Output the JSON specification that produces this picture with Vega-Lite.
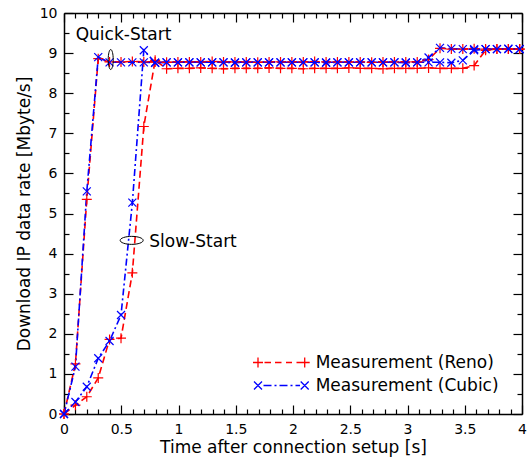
{
  "$schema": "https://vega.github.io/schema/vega-lite/v6.json",
  "width": 458,
  "height": 401,
  "autosize": {"type": "none"},
  "padding": {"left": 64, "top": 13, "right": 5, "bottom": 46},
  "background": "white",
  "config": {
    "view": {"stroke": null},
    "axis": {
      "domainColor": "black", "tickColor": "black", "labelColor": "black", "titleColor": "black",
      "labelFont": "DejaVu Sans", "titleFont": "DejaVu Sans", "labelFontSize": 14, "titleFontSize": 17,
      "titleFontWeight": "normal", "grid": false, "tickWidth": 1.2, "domainWidth": 1.5,
      "labelOverlap": false, "labelFlush": false
    },
    "legend": {
      "labelFont": "DejaVu Sans", "labelFontSize": 17, "labelColor": "black", "labelLimit": 400,
      "padding": 0, "symbolSize": 100, "symbolStrokeWidth": 1.3, "labelOffset": 49.2, "rowPadding": 5
    }
  },
  "datasets": {
    "pts": [
      {"s":"QR","a":"Reno","t":0,"r":0},{"s":"QR","a":"Reno","t":0.1,"r":1.25},{"s":"QR","a":"Reno","t":0.199,"r":5.35},{"s":"QR","a":"Reno","t":0.299,"r":8.86},{"s":"QR","a":"Reno","t":0.398,"r":8.78},{"s":"QR","a":"Reno","t":0.498,"r":8.78},{"s":"QR","a":"Reno","t":0.597,"r":8.79},{"s":"QR","a":"Reno","t":0.697,"r":8.78},{"s":"QR","a":"Reno","t":0.796,"r":8.78},{"s":"QR","a":"Reno","t":0.896,"r":8.77},{"s":"QR","a":"Reno","t":0.995,"r":8.78},{"s":"QR","a":"Reno","t":1.095,"r":8.78},{"s":"QR","a":"Reno","t":1.194,"r":8.78},{"s":"QR","a":"Reno","t":1.294,"r":8.79},{"s":"QR","a":"Reno","t":1.393,"r":8.78},{"s":"QR","a":"Reno","t":1.493,"r":8.78},{"s":"QR","a":"Reno","t":1.592,"r":8.78},{"s":"QR","a":"Reno","t":1.692,"r":8.77},{"s":"QR","a":"Reno","t":1.791,"r":8.78},{"s":"QR","a":"Reno","t":1.891,"r":8.78},{"s":"QR","a":"Reno","t":1.99,"r":8.78},{"s":"QR","a":"Reno","t":2.09,"r":8.78},{"s":"QR","a":"Reno","t":2.189,"r":8.79},{"s":"QR","a":"Reno","t":2.289,"r":8.78},{"s":"QR","a":"Reno","t":2.388,"r":8.78},{"s":"QR","a":"Reno","t":2.488,"r":8.78},{"s":"QR","a":"Reno","t":2.587,"r":8.78},{"s":"QR","a":"Reno","t":2.687,"r":8.77},{"s":"QR","a":"Reno","t":2.786,"r":8.78},{"s":"QR","a":"Reno","t":2.886,"r":8.78},{"s":"QR","a":"Reno","t":2.985,"r":8.78},{"s":"QR","a":"Reno","t":3.085,"r":8.78},{"s":"QR","a":"Reno","t":3.184,"r":8.84},{"s":"QR","a":"Reno","t":3.284,"r":9.12},{"s":"QR","a":"Reno","t":3.383,"r":9.1},{"s":"QR","a":"Reno","t":3.483,"r":9.1},{"s":"QR","a":"Reno","t":3.582,"r":9.11},{"s":"QR","a":"Reno","t":3.682,"r":9.1},{"s":"QR","a":"Reno","t":3.781,"r":9.1},{"s":"QR","a":"Reno","t":3.881,"r":9.1},{"s":"QR","a":"Reno","t":3.98,"r":9.1},
      {"s":"SR","a":"Reno","t":0,"r":0},{"s":"SR","a":"Reno","t":0.1,"r":0.22},{"s":"SR","a":"Reno","t":0.199,"r":0.43},{"s":"SR","a":"Reno","t":0.299,"r":0.9},{"s":"SR","a":"Reno","t":0.398,"r":1.86},{"s":"SR","a":"Reno","t":0.498,"r":1.89},{"s":"SR","a":"Reno","t":0.597,"r":3.52},{"s":"SR","a":"Reno","t":0.697,"r":7.17},{"s":"SR","a":"Reno","t":0.796,"r":8.82},{"s":"SR","a":"Reno","t":0.896,"r":8.61},{"s":"SR","a":"Reno","t":0.995,"r":8.62},{"s":"SR","a":"Reno","t":1.095,"r":8.62},{"s":"SR","a":"Reno","t":1.194,"r":8.63},{"s":"SR","a":"Reno","t":1.294,"r":8.62},{"s":"SR","a":"Reno","t":1.393,"r":8.61},{"s":"SR","a":"Reno","t":1.493,"r":8.62},{"s":"SR","a":"Reno","t":1.592,"r":8.62},{"s":"SR","a":"Reno","t":1.692,"r":8.62},{"s":"SR","a":"Reno","t":1.791,"r":8.63},{"s":"SR","a":"Reno","t":1.891,"r":8.62},{"s":"SR","a":"Reno","t":1.99,"r":8.62},{"s":"SR","a":"Reno","t":2.09,"r":8.61},{"s":"SR","a":"Reno","t":2.189,"r":8.62},{"s":"SR","a":"Reno","t":2.289,"r":8.62},{"s":"SR","a":"Reno","t":2.388,"r":8.62},{"s":"SR","a":"Reno","t":2.488,"r":8.63},{"s":"SR","a":"Reno","t":2.587,"r":8.62},{"s":"SR","a":"Reno","t":2.687,"r":8.62},{"s":"SR","a":"Reno","t":2.786,"r":8.61},{"s":"SR","a":"Reno","t":2.886,"r":8.62},{"s":"SR","a":"Reno","t":2.985,"r":8.62},{"s":"SR","a":"Reno","t":3.085,"r":8.62},{"s":"SR","a":"Reno","t":3.184,"r":8.63},{"s":"SR","a":"Reno","t":3.284,"r":8.62},{"s":"SR","a":"Reno","t":3.383,"r":8.62},{"s":"SR","a":"Reno","t":3.483,"r":8.62},{"s":"SR","a":"Reno","t":3.582,"r":8.69},{"s":"SR","a":"Reno","t":3.682,"r":9.07},{"s":"SR","a":"Reno","t":3.781,"r":9.1},{"s":"SR","a":"Reno","t":3.881,"r":9.1},{"s":"SR","a":"Reno","t":3.98,"r":9.1},
      {"s":"QC","a":"Cubic","t":0,"r":0},{"s":"QC","a":"Cubic","t":0.1,"r":1.18},{"s":"QC","a":"Cubic","t":0.199,"r":5.55},{"s":"QC","a":"Cubic","t":0.299,"r":8.9},{"s":"QC","a":"Cubic","t":0.398,"r":8.77},{"s":"QC","a":"Cubic","t":0.498,"r":8.77},{"s":"QC","a":"Cubic","t":0.597,"r":8.77},{"s":"QC","a":"Cubic","t":0.697,"r":8.77},{"s":"QC","a":"Cubic","t":0.796,"r":8.76},{"s":"QC","a":"Cubic","t":0.896,"r":8.77},{"s":"QC","a":"Cubic","t":0.995,"r":8.77},{"s":"QC","a":"Cubic","t":1.095,"r":8.77},{"s":"QC","a":"Cubic","t":1.194,"r":8.77},{"s":"QC","a":"Cubic","t":1.294,"r":8.77},{"s":"QC","a":"Cubic","t":1.393,"r":8.77},{"s":"QC","a":"Cubic","t":1.493,"r":8.76},{"s":"QC","a":"Cubic","t":1.592,"r":8.77},{"s":"QC","a":"Cubic","t":1.692,"r":8.77},{"s":"QC","a":"Cubic","t":1.791,"r":8.77},{"s":"QC","a":"Cubic","t":1.891,"r":8.77},{"s":"QC","a":"Cubic","t":1.99,"r":8.77},{"s":"QC","a":"Cubic","t":2.09,"r":8.77},{"s":"QC","a":"Cubic","t":2.189,"r":8.77},{"s":"QC","a":"Cubic","t":2.289,"r":8.76},{"s":"QC","a":"Cubic","t":2.388,"r":8.77},{"s":"QC","a":"Cubic","t":2.488,"r":8.77},{"s":"QC","a":"Cubic","t":2.587,"r":8.77},{"s":"QC","a":"Cubic","t":2.687,"r":8.77},{"s":"QC","a":"Cubic","t":2.786,"r":8.77},{"s":"QC","a":"Cubic","t":2.886,"r":8.77},{"s":"QC","a":"Cubic","t":2.985,"r":8.76},{"s":"QC","a":"Cubic","t":3.085,"r":8.77},{"s":"QC","a":"Cubic","t":3.184,"r":8.89},{"s":"QC","a":"Cubic","t":3.284,"r":9.13},{"s":"QC","a":"Cubic","t":3.383,"r":9.11},{"s":"QC","a":"Cubic","t":3.483,"r":9.1},{"s":"QC","a":"Cubic","t":3.582,"r":9.1},{"s":"QC","a":"Cubic","t":3.682,"r":9.1},{"s":"QC","a":"Cubic","t":3.781,"r":9.1},{"s":"QC","a":"Cubic","t":3.881,"r":9.11},{"s":"QC","a":"Cubic","t":3.98,"r":9.1},
      {"s":"SC","a":"Cubic","t":0,"r":0},{"s":"SC","a":"Cubic","t":0.1,"r":0.3},{"s":"SC","a":"Cubic","t":0.199,"r":0.68},{"s":"SC","a":"Cubic","t":0.299,"r":1.39},{"s":"SC","a":"Cubic","t":0.398,"r":1.82},{"s":"SC","a":"Cubic","t":0.498,"r":2.47},{"s":"SC","a":"Cubic","t":0.597,"r":5.27},{"s":"SC","a":"Cubic","t":0.697,"r":9.07},{"s":"SC","a":"Cubic","t":0.796,"r":8.76},{"s":"SC","a":"Cubic","t":0.896,"r":8.77},{"s":"SC","a":"Cubic","t":0.995,"r":8.77},{"s":"SC","a":"Cubic","t":1.095,"r":8.77},{"s":"SC","a":"Cubic","t":1.194,"r":8.77},{"s":"SC","a":"Cubic","t":1.294,"r":8.77},{"s":"SC","a":"Cubic","t":1.393,"r":8.77},{"s":"SC","a":"Cubic","t":1.493,"r":8.77},{"s":"SC","a":"Cubic","t":1.592,"r":8.77},{"s":"SC","a":"Cubic","t":1.692,"r":8.77},{"s":"SC","a":"Cubic","t":1.791,"r":8.77},{"s":"SC","a":"Cubic","t":1.891,"r":8.77},{"s":"SC","a":"Cubic","t":1.99,"r":8.77},{"s":"SC","a":"Cubic","t":2.09,"r":8.77},{"s":"SC","a":"Cubic","t":2.189,"r":8.77},{"s":"SC","a":"Cubic","t":2.289,"r":8.77},{"s":"SC","a":"Cubic","t":2.388,"r":8.77},{"s":"SC","a":"Cubic","t":2.488,"r":8.77},{"s":"SC","a":"Cubic","t":2.587,"r":8.77},{"s":"SC","a":"Cubic","t":2.687,"r":8.77},{"s":"SC","a":"Cubic","t":2.786,"r":8.77},{"s":"SC","a":"Cubic","t":2.886,"r":8.77},{"s":"SC","a":"Cubic","t":2.985,"r":8.77},{"s":"SC","a":"Cubic","t":3.085,"r":8.77},{"s":"SC","a":"Cubic","t":3.184,"r":8.77},{"s":"SC","a":"Cubic","t":3.284,"r":8.77},{"s":"SC","a":"Cubic","t":3.383,"r":8.76},{"s":"SC","a":"Cubic","t":3.483,"r":8.82},{"s":"SC","a":"Cubic","t":3.582,"r":9.07},{"s":"SC","a":"Cubic","t":3.682,"r":9.1},{"s":"SC","a":"Cubic","t":3.781,"r":9.1},{"s":"SC","a":"Cubic","t":3.881,"r":9.1},{"s":"SC","a":"Cubic","t":3.98,"r":9.1}
    ],
    "ann": [
      {"label": "Quick-Start", "t": 0.102, "r": 9.46, "et": 0.408, "er": 8.84},
      {"label": "Slow-Start", "t": 0.745, "r": 4.3, "et": 0.591, "er": 4.33}
    ]
  },
  "resolve": {"axis": {"x": "independent", "y": "independent"}, "scale": {"color": "independent", "shape": "independent"}},
  "layer": [
    {
      "data": {"name": "pts"},
      "mark": {"type": "line", "strokeWidth": 1.6},
      "encoding": {
        "x": {"field": "t", "type": "quantitative", "scale": {"domain": [0, 4], "nice": false},
          "axis": {"orient": "bottom", "values": [0, 0.5, 1, 1.5, 2, 2.5, 3, 3.5, 4], "tickSize": -9, "labelPadding": 17, "labelExpr": "'' + datum.value", "title": "Time after connection setup [s]", "titlePadding": 3}},
        "y": {"field": "r", "type": "quantitative", "scale": {"domain": [0, 10], "nice": false},
          "axis": {"orient": "left", "values": [0, 1, 2, 3, 4, 5, 6, 7, 8, 9, 10], "tickSize": -9, "labelPadding": 16, "labelExpr": "'' + datum.value", "title": "Download IP data rate [Mbyte/s]", "titlePadding": 6}},
        "color": {"field": "a", "type": "nominal", "scale": {"domain": ["Reno", "Cubic"], "range": ["#ff0000", "#0000ff"]}, "legend": null},
        "strokeDash": {"field": "a", "type": "nominal", "scale": {"domain": ["Reno", "Cubic"], "range": [[7, 4], [7, 3, 2, 3]]}, "legend": null},
        "detail": {"field": "s"}
      }
    },
    {
      "data": {"name": "pts"},
      "mark": {"type": "point", "filled": false, "size": 100, "strokeWidth": 1.2, "opacity": 1},
      "encoding": {
        "x": {"field": "t", "type": "quantitative",
          "axis": {"orient": "bottom", "values": [0.1,0.2,0.3,0.4,0.6,0.7,0.8,0.9,1.1,1.2,1.3,1.4,1.6,1.7,1.8,1.9,2.1,2.2,2.3,2.4,2.6,2.7,2.8,2.9,3.1,3.2,3.3,3.4,3.6,3.7,3.8,3.9], "tickSize": -5, "labels": false, "domain": false, "title": null}},
        "y": {"field": "r", "type": "quantitative",
          "axis": {"orient": "left", "values": [0.5,1.5,2.5,3.5,4.5,5.5,6.5,7.5,8.5,9.5], "tickSize": -5, "labels": false, "domain": false, "title": null}},
        "color": {"field": "a", "type": "nominal", "scale": {"domain": ["Reno", "Cubic"], "range": ["#ff0000", "#0000ff"]}, "legend": null},
        "shape": {"field": "a", "type": "nominal", "scale": {"domain": ["Reno", "Cubic"], "range": ["M-1,0L1,0M0,-1L0,1", "M-0.8,-0.8L0.8,0.8M-0.8,0.8L0.8,-0.8"]}, "legend": null}
      }
    },
    {
      "data": {"name": "pts"},
      "transform": [{"filter": "datum.t === 0 && (datum.s === 'QR' || datum.s === 'QC')"}],
      "mark": {"type": "point", "filled": false, "size": 100, "strokeWidth": 1.3, "opacity": 0},
      "encoding": {
        "x": {"field": "t", "type": "quantitative", "axis": null},
        "y": {"field": "r", "type": "quantitative", "axis": null},
        "color": {"field": "a", "type": "nominal", "scale": {"domain": ["Reno", "Cubic"], "range": ["#ff0000", "#0000ff"]},
          "legend": {"orient": "none", "legendX": 185.5, "legendY": 341, "title": null, "symbolOpacity": 1,
            "labelExpr": "'Measurement (' + datum.label + ')'"}},
        "shape": {"field": "a", "type": "nominal",
          "scale": {"domain": ["Reno", "Cubic"], "range": [
            "M-1,0L1,0M0,-1L0,1M1.3,0L2.6,0M3.4,0L4.7,0M5.6,0L6.8,0M7.7,0L10.34,0M9.34,-1L9.34,1",
            "M-0.8,-0.8L0.8,0.8M-0.8,0.8L0.8,-0.8M1.1,0L2.7,0M3.3,0L3.7,0M4.3,0L5.9,0M6.5,0L6.9,0M7.5,0L8.4,0M8.54,-0.8L10.14,0.8M8.54,0.8L10.14,-0.8"]},
          "legend": {"orient": "none", "legendX": 185.5, "legendY": 341, "title": null, "symbolOpacity": 1,
            "labelExpr": "'Measurement (' + datum.label + ')'"}}
      }
    },
    {
      "data": {"name": "ann"},
      "transform": [{"filter": "datum.label === 'Quick-Start'"}],
      "mark": {"type": "point", "filled": false, "color": "black", "strokeWidth": 1, "size": 400, "opacity": 1,
        "shape": "M0,-1C0.138,-1,0.25,-0.552,0.25,0C0.25,0.552,0.138,1,0,1C-0.138,1,-0.25,0.552,-0.25,0C-0.25,-0.552,-0.138,-1,0,-1Z"},
      "encoding": {
        "x": {"field": "et", "type": "quantitative",
          "axis": {"orient": "top", "values": [0, 0.5, 1, 1.5, 2, 2.5, 3, 3.5, 4], "tickSize": -9, "labels": false, "title": null}},
        "y": {"field": "er", "type": "quantitative",
          "axis": {"orient": "right", "values": [0, 1, 2, 3, 4, 5, 6, 7, 8, 9, 10], "tickSize": -9, "labels": false, "title": null}}
      }
    },
    {
      "data": {"name": "ann"},
      "transform": [{"filter": "datum.label === 'Slow-Start'"}],
      "mark": {"type": "point", "filled": false, "color": "black", "strokeWidth": 1, "size": 529, "opacity": 1,
        "shape": "M-1,0C-1,-0.192,-0.552,-0.348,0,-0.348C0.552,-0.348,1,-0.192,1,0C1,0.192,0.552,0.348,0,0.348C-0.552,0.348,-1,0.192,-1,0Z"},
      "encoding": {
        "x": {"field": "et", "type": "quantitative",
          "axis": {"orient": "top", "values": [0.1,0.2,0.3,0.4,0.6,0.7,0.8,0.9,1.1,1.2,1.3,1.4,1.6,1.7,1.8,1.9,2.1,2.2,2.3,2.4,2.6,2.7,2.8,2.9,3.1,3.2,3.3,3.4,3.6,3.7,3.8,3.9], "tickSize": -5, "labels": false, "domain": false, "title": null}},
        "y": {"field": "er", "type": "quantitative",
          "axis": {"orient": "right", "values": [0.5,1.5,2.5,3.5,4.5,5.5,6.5,7.5,8.5,9.5], "tickSize": -5, "labels": false, "domain": false, "title": null}}
      }
    },
    {
      "data": {"name": "ann"},
      "mark": {"type": "text", "align": "left", "baseline": "middle", "font": "DejaVu Sans", "fontSize": 17, "color": "black"},
      "encoding": {
        "x": {"field": "t", "type": "quantitative", "axis": null},
        "y": {"field": "r", "type": "quantitative", "axis": null},
        "text": {"field": "label"}
      }
    }
  ]
}
